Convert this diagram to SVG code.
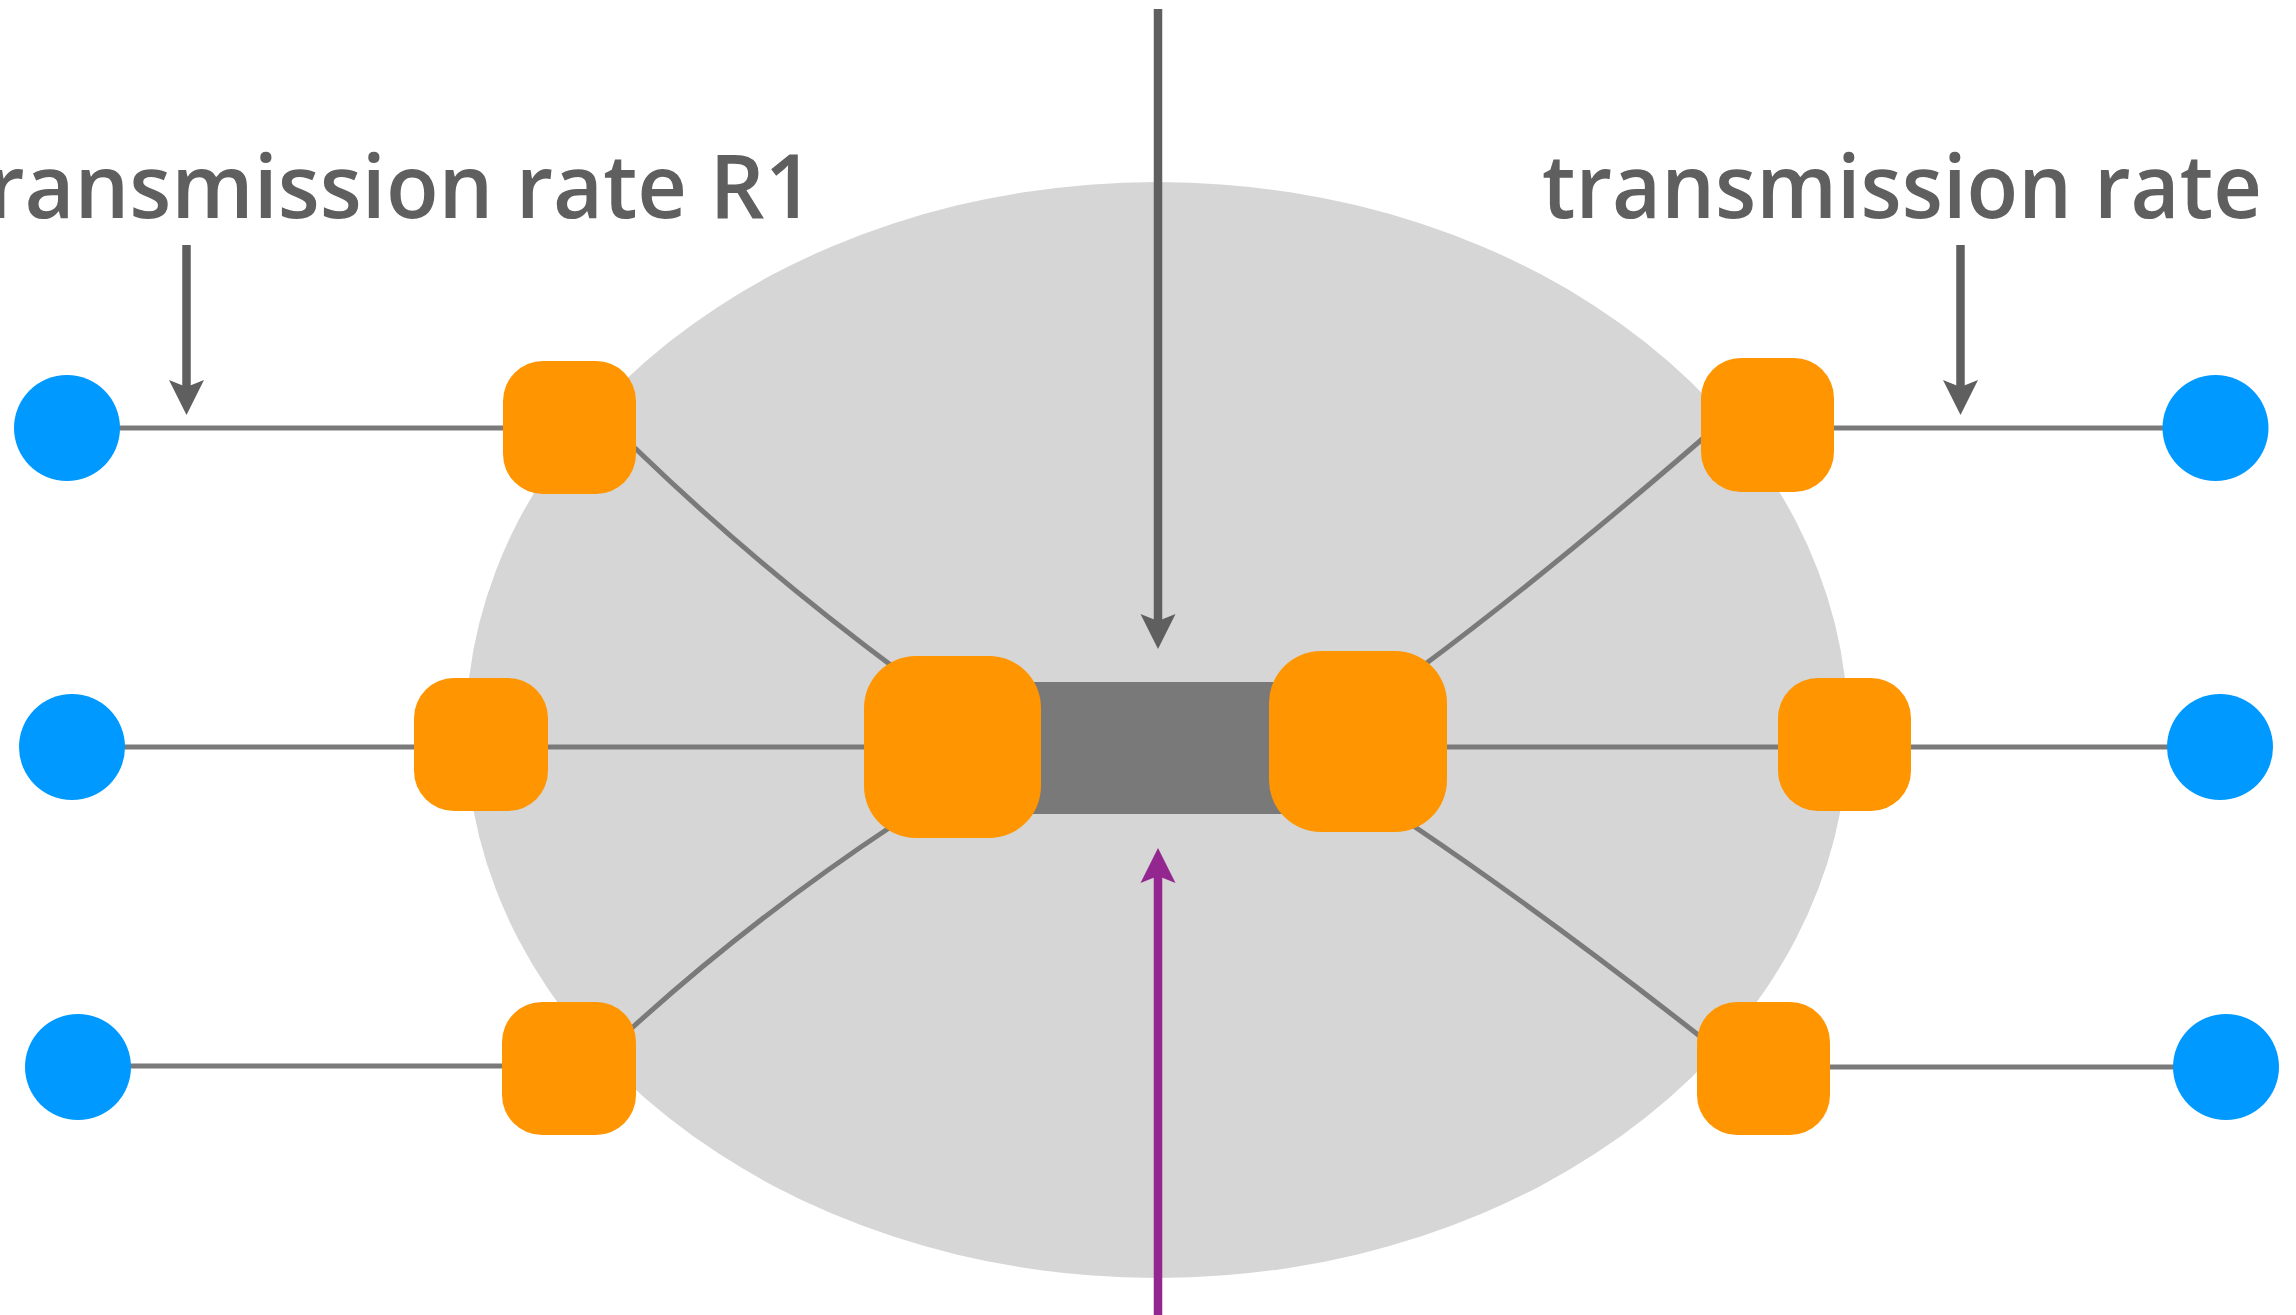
<svg xmlns="http://www.w3.org/2000/svg" width="2296" height="1315" viewBox="0 0 2296 1315">
<style>
.bg{fill:#ffffff}
.cloud{fill:#d6d6d6}
.link{fill:none;stroke:#7a7a7a;stroke-width:5}
.core{fill:#797979}
.router{fill:#ff9500}
.host{fill:#0099ff}
.arr{stroke:#5f5f5f;stroke-width:8.5;fill:none}
.arrp{stroke:#93278f;stroke-width:8.5;fill:none}
.lbl{font-family:"Open Sans","Liberation Sans",Arial,sans-serif;font-size:88px;font-weight:600;fill:#5f5f5f}
</style>
<defs>
<marker id="headGray" markerUnits="userSpaceOnUse" viewBox="-36 -18 37 36" markerWidth="37" markerHeight="36" refX="-28" refY="0" orient="auto">
<path d="M0,0 L-35,-17.5 L-28,0 L-35,17.5 Z" fill="#5f5f5f"/>
</marker>
<marker id="headPurple" markerUnits="userSpaceOnUse" viewBox="-36 -18 37 36" markerWidth="37" markerHeight="36" refX="-28" refY="0" orient="auto">
<path d="M0,0 L-35,-17.5 L-28,0 L-35,17.5 Z" fill="#93278f"/>
</marker>
</defs>
<rect class="bg" x="0" y="0" width="2296" height="1315"/>
<ellipse id="network" class="cloud" cx="1157" cy="730" rx="691" ry="548"/>
<g id="connectors">
<line class="link" x1="67" y1="428" x2="569" y2="428"/>
<line class="link" x1="72" y1="747" x2="952" y2="747"/>
<line class="link" x1="78" y1="1066" x2="569" y2="1066"/>
<line class="link" x1="1767" y1="428" x2="2215" y2="428"/>
<line class="link" x1="1358" y1="747" x2="2220" y2="747"/>
<line class="link" x1="1764" y1="1067" x2="2226" y2="1067"/>
<path class="link" d="M600,418 L636,449 Q757,566 900,672"/>
<path class="link" d="M1740,406 L1700,441 Q1545,575 1420,668"/>
<path class="link" d="M600,1055 L633,1027 Q753,918 895,824"/>
<path class="link" d="M1405,820 L1415,827 Q1560,925 1730,1060"/>
<line class="arr" x1="1158" y1="9" x2="1158" y2="621" marker-end="url(#headGray)"/>
<line class="arrp" x1="1158" y1="1315" x2="1158" y2="876" marker-end="url(#headPurple)"/>
<line class="arr" x1="186.5" y1="245" x2="186.5" y2="387" marker-end="url(#headGray)"/>
<line class="arr" x1="1960.5" y1="245" x2="1960.5" y2="387" marker-end="url(#headGray)"/>
</g>
<g id="link-core"><rect class="core" x="1000" y="682" width="310" height="132"/></g>
<g id="router-left-core"><rect class="router" x="864" y="656" width="177" height="182" rx="52" ry="52"/></g>
<g id="router-right-core"><rect class="router" x="1269" y="651" width="178" height="181" rx="52" ry="52"/></g>
<g id="router-tl"><rect class="router" x="503" y="361" width="133" height="133" rx="40" ry="40"/></g>
<g id="router-ml"><rect class="router" x="414" y="678" width="134" height="133" rx="40" ry="40"/></g>
<g id="router-bl"><rect class="router" x="502" y="1002" width="134" height="133" rx="40" ry="40"/></g>
<g id="router-tr"><rect class="router" x="1701" y="358" width="133" height="134" rx="40" ry="40"/></g>
<g id="router-mr"><rect class="router" x="1778" y="678" width="133" height="133" rx="40" ry="40"/></g>
<g id="router-br"><rect class="router" x="1697" y="1002" width="133" height="133" rx="40" ry="40"/></g>
<g id="host-tl"><circle class="host" cx="67" cy="428" r="53"/></g>
<g id="host-ml"><circle class="host" cx="72" cy="747" r="53"/></g>
<g id="host-bl"><circle class="host" cx="78" cy="1067" r="53"/></g>
<g id="host-tr"><circle class="host" cx="2215.5" cy="428" r="53"/></g>
<g id="host-mr"><circle class="host" cx="2220" cy="747" r="53"/></g>
<g id="host-br"><circle class="host" cx="2226" cy="1067" r="53"/></g>
<g id="label-left"><text class="lbl" x="-47" y="218" textLength="861" lengthAdjust="spacingAndGlyphs">transmission rate R1</text></g>
<g id="label-right"><text class="lbl" x="1542" y="218" textLength="720" lengthAdjust="spacingAndGlyphs">transmission rate</text></g>
</svg>
